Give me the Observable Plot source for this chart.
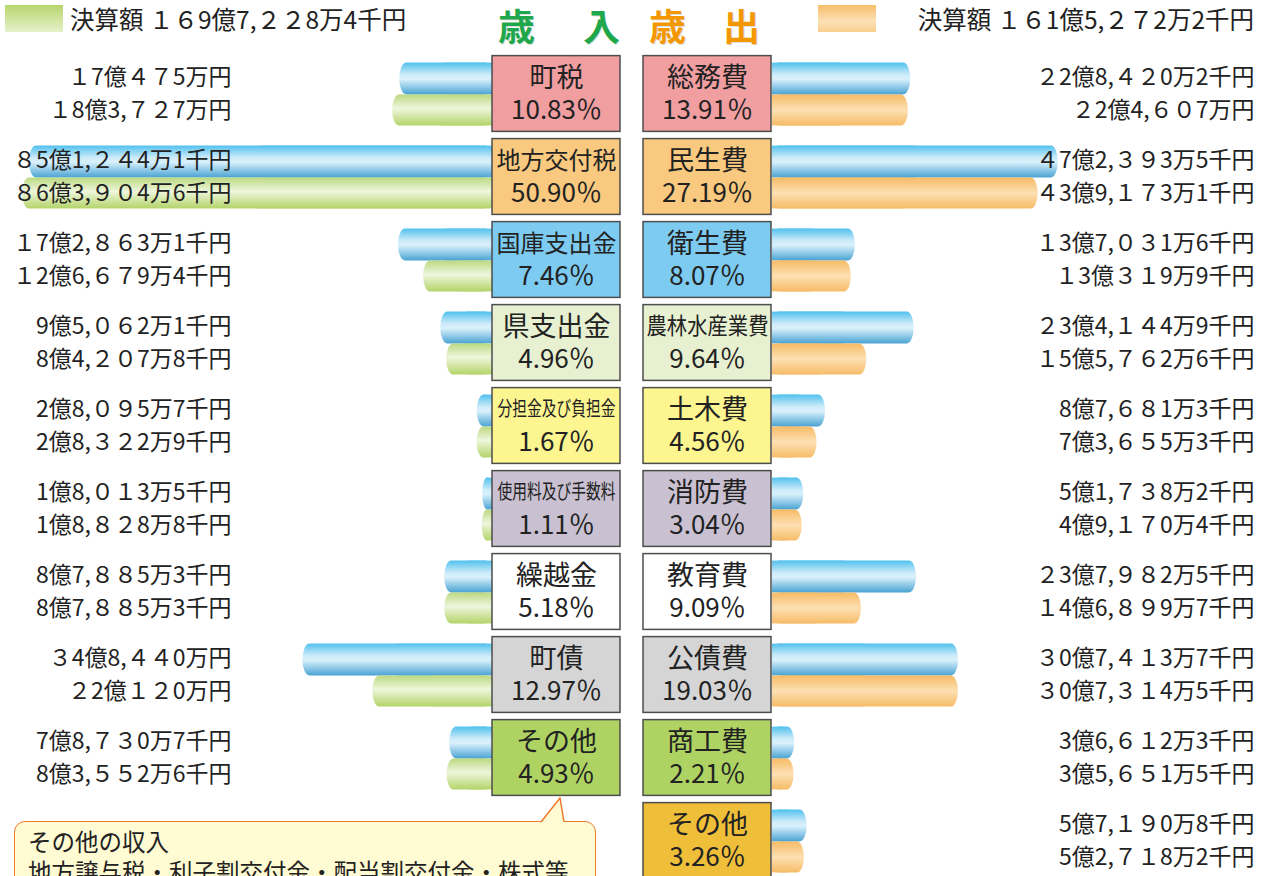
<!DOCTYPE html>
<html><head><meta charset="utf-8">
<script src="https://cdn.jsdelivr.net/npm/d3@7"></script>
<script src="https://cdn.jsdelivr.net/npm/@observablehq/plot@0.6"></script>
<style>
html,body{margin:0;padding:0;background:#fff;overflow:hidden;width:1266px;height:876px;}
body{font-family:"Noto Sans CJK JP","Noto Sans",sans-serif;color:#222;position:relative;}
#header{position:relative;height:51px;}
#header .sw{position:absolute;top:5px;width:58px;height:27px;}
#header .tot{position:absolute;top:3px;font-size:24.5px;line-height:32px;white-space:nowrap;color:#222;}
#header .ttl{position:absolute;top:5px;font-size:37px;line-height:40px;font-weight:bold;white-space:nowrap;text-shadow:1px 1px 0 rgba(0,0,0,0.15);}
#charts{display:flex;align-items:flex-start;}
#charts svg{display:block;overflow:visible;}
#callout{position:absolute;left:14px;top:821px;width:582px;height:90px;box-sizing:border-box;border:1.5px solid #ef7a2c;border-radius:11px;background:#fffbd3;padding:4px 13px;font-size:23.5px;line-height:30px;white-space:nowrap;color:#222;}
#pointer{position:absolute;left:539px;top:797px;}
</style></head><body>
<svg width="0" height="0" style="position:absolute">
  <defs>
    <linearGradient id="gBlue" x1="0" y1="0" x2="0" y2="1">
      <stop offset="0" stop-color="#52c1ee"/>
      <stop offset="0.38" stop-color="#cdebf9"/>
      <stop offset="0.52" stop-color="#d9f1fc"/>
      <stop offset="1" stop-color="#4aa3d3"/>
    </linearGradient>
    <linearGradient id="gGreen" x1="0" y1="0" x2="0" y2="1">
      <stop offset="0" stop-color="#bcd982"/>
      <stop offset="0.45" stop-color="#eef6dc"/>
      <stop offset="1" stop-color="#b4d46a"/>
    </linearGradient>
    <linearGradient id="gOrange" x1="0" y1="0" x2="0" y2="1">
      <stop offset="0" stop-color="#f6bb66"/>
      <stop offset="0.5" stop-color="#fde0b3"/>
      <stop offset="1" stop-color="#f6bc68"/>
    </linearGradient>
  </defs>
</svg>
<div id="header"></div>
<div id="charts"></div>
<script>
// ---------------- data ----------------
const inTitle = ["歳", "入"];
const outTitle = ["歳", "出"];
const inTotalLabel = "決算額 １６9億7,２２8万4千円";
const outTotalLabel = "決算額 １６1億5,２７2万2千円";

const inCats = ["町税","地方交付税","国庫支出金","県支出金","分担金及び負担金","使用料及び手数料","繰越金","町債","その他"];
const inPrev = [17.0475, 85.12441, 17.28631, 9.50621, 2.80957, 1.80135, 8.78853, 34.844, 7.87307];
const inCur  = [18.3727, 86.39046, 12.66794, 8.42078, 2.83229, 1.88288, 8.78853, 22.012, 8.35526];
const inPrevLabels = ["１7億４７5万円","８5億1,２４4万1千円","１7億2,８６3万1千円","9億5,０６2万1千円","2億8,０９5万7千円","1億8,０１3万5千円","8億7,８８5万3千円","３4億8,４４0万円","7億8,７３0万7千円"];
const inCurLabels  = ["１8億3,７２7万円","８6億3,９０4万6千円","１2億6,６７9万4千円","8億4,２０7万8千円","2億8,３２2万9千円","1億8,８２8万8千円","8億7,８８5万3千円","２2億１２0万円","8億3,５５2万6千円"];
const inPct = ["10.83％","50.90％","7.46％","4.96％","1.67％","1.11％","5.18％","12.97％","4.93％"];

const outCats = ["総務費","民生費","衛生費","農林水産業費","土木費","消防費","教育費","公債費","商工費","その他"];
const outPrev = [22.84202, 47.23935, 13.70316, 23.41449, 8.76813, 5.17382, 23.79825, 30.74137, 3.66123, 5.71908];
const outCur  = [22.4607, 43.91731, 13.03199, 15.57626, 7.36553, 4.91704, 14.68997, 30.73145, 3.56515, 5.27182];
const outPrevLabels = ["２2億8,４２0万2千円","４7億2,３９3万5千円","１3億7,０３1万6千円","２3億4,１４4万9千円","8億7,６８1万3千円","5億1,７３8万2千円","２3億7,９８2万5千円","３0億7,４１3万7千円","3億6,６１2万3千円","5億7,１９0万8千円"];
const outCurLabels  = ["２2億4,６０7万円","４3億9,１７3万1千円","１3億３１9万9千円","１5億5,７６2万6千円","7億3,６５5万3千円","4億9,１７0万4千円","１4億6,８９9万7千円","３0億7,３１4万5千円","3億5,６５1万5千円","5億2,７１8万2千円"];
const outPct = ["13.91％","27.19％","8.07％","9.64％","4.56％","3.04％","9.09％","19.03％","2.21％","3.26％"];

const noteTitle = "その他の収入";
const noteText = "地方譲与税・利子割交付金・配当割交付金・株式等";

// ---------------- styles ----------------
const boxColors = ["#f19ea1","#f9c97f","#7dcbf1","#e7f0d0","#fcf590","#c9c1d1","#ffffff","#d5d5d5","#afd362","#f0bf3a"];
const FONT = '"Noto Sans CJK JP", "Noto Sans", sans-serif';
const H = 840;
const rows = d3.range(10);
const yOpt = {domain: rows, range: [0, 832], padding: 0, axis: null};

// ---------------- header ----------------
const header = document.getElementById("header");
header.innerHTML = `
  <div class="sw" style="left:5px;background:linear-gradient(to bottom,#b7d66c,#e6f1cb)"></div>
  <div class="tot" style="left:70px">${inTotalLabel}</div>
  <div class="ttl" style="left:498px;color:#1ea84b">${inTitle[0]}</div>
  <div class="ttl" style="left:583px;color:#1ea84b">${inTitle[1]}</div>
  <div class="ttl" style="left:649px;color:#f39800">${outTitle[0]}</div>
  <div class="ttl" style="left:723px;color:#f39800">${outTitle[1]}</div>
  <div class="sw" style="left:818px;background:linear-gradient(to bottom,#f7bd6a,#fde1b6 60%,#f9cf8e)"></div>
  <div class="tot" style="right:12px">${outTotalLabel}</div>`;

// ---------------- tables ----------------
const inData = inCats.map((c, i) => ({row: i, cat: c, prev: inPrev[i], cur: inCur[i], prevLabel: inPrevLabels[i], curLabel: inCurLabels[i], pct: inPct[i]}));
const outData = outCats.map((c, i) => ({row: i, cat: c, prev: outPrev[i], cur: outCur[i], prevLabel: outPrevLabels[i], curLabel: outCurLabels[i], pct: outPct[i]}));
const boxData = [
  ...inData.map(d => ({side: "in", row: d.row, name: d.cat, pct: d.pct})),
  ...outData.map(d => ({side: "out", row: d.row, name: d.cat, pct: d.pct}))
];

const topBar = {insetTop: 10.6, insetBottom: 40.6};
const botBar = {insetTop: 42.6, insetBottom: 9.6};

function barMarks(data, curFill) {
  return [
    Plot.barX(data, {y: "row", x: "prev", fill: "url(#gBlue)", rx: 7, ry: 16, ...topBar}),
    Plot.barX(data, {y: "row", x: d => d.prev / 2, fill: "url(#gBlue)", ...topBar}),
    Plot.barX(data, {y: "row", x: "cur", fill: curFill, rx: 7, ry: 16, ...botBar}),
    Plot.barX(data, {y: "row", x: d => d.cur / 2, fill: curFill, ...botBar})
  ];
}

// left (revenue)
const left = Plot.plot({
  width: 492, height: H, margin: 0,
  style: {fontFamily: FONT, background: "transparent", overflow: "visible"},
  x: {domain: [0, 90], range: [492, 492 - 90 * 5.44], axis: null},
  y: yOpt,
  marks: [
    ...barMarks(inData, "url(#gGreen)"),
    Plot.text(inData, {y: "row", text: "prevLabel", frameAnchor: "left", dx: 231, dy: -16, textAnchor: "end", fontSize: 23, fill: "#222"}),
    Plot.text(inData, {y: "row", text: "curLabel", frameAnchor: "left", dx: 231, dy: 17, textAnchor: "end", fontSize: 23, fill: "#222"})
  ]
});

// center (category boxes)
const center = Plot.plot({
  width: 280, height: H, margin: 0,
  style: {fontFamily: FONT, background: "transparent", overflow: "visible"},
  x: {domain: ["in", "out"], range: [0, 280], paddingInner: 0.152, paddingOuter: 0, axis: null},
  y: yOpt,
  color: {type: "ordinal", domain: rows, range: boxColors},
  marks: [
    Plot.cell(boxData, {x: "side", y: "row", fill: "row", stroke: "#4d4d4d", strokeWidth: 1.5, insetTop: 3.6, insetBottom: 3.6}),
    Plot.text(boxData.filter(d => d.name.length <= 4), {x: "side", y: "row", text: "name", dy: -16, fontSize: 27, fill: "#222"}),
    Plot.text(boxData.filter(d => d.name.length === 5), {x: "side", y: "row", text: "name", dy: -16, fontSize: 24, fill: "#222"}),
    Plot.text(boxData.filter(d => d.name.length === 6), {x: "side", y: "row", text: "name", dy: -16, fontSize: 23, fill: "#222"}),
    Plot.text(boxData.filter(d => d.name.length >= 7), {x: "side", y: "row", text: "name", dy: -16, fontSize: 20, fill: "#222"}),
    Plot.text(boxData, {x: "side", y: "row", text: "pct", dy: 17, fontSize: 26, fill: "#222"})
  ]
});
d3.select(center).selectAll("text").each(function() {
  const t = this.textContent;
  if (t.length === 6 && !t.includes("％")) { this.setAttribute("textLength", 122); this.setAttribute("lengthAdjust", "spacingAndGlyphs"); }
  if (t.length >= 7 && !t.includes("％")) { this.setAttribute("textLength", 118); this.setAttribute("lengthAdjust", "spacingAndGlyphs"); }
});

// right (expenditure)
const right = Plot.plot({
  width: 494, height: H, margin: 0,
  style: {fontFamily: FONT, background: "transparent", overflow: "visible"},
  x: {domain: [0, 80], range: [0, 80 * 6.05], axis: null},
  y: yOpt,
  marks: [
    ...barMarks(outData, "url(#gOrange)"),
    Plot.text(outData, {y: "row", text: "prevLabel", frameAnchor: "right", dx: -12, dy: -16, textAnchor: "end", fontSize: 23, fill: "#222"}),
    Plot.text(outData, {y: "row", text: "curLabel", frameAnchor: "right", dx: -12, dy: 17, textAnchor: "end", fontSize: 23, fill: "#222"})
  ]
});

const charts = document.getElementById("charts");
charts.append(left, center, right);

// note callout
const note = document.createElement("div");
note.id = "callout";
note.innerHTML = `<div>${noteTitle}</div><div>${noteText}</div>`;
document.body.append(note);
const ptr = document.createElementNS("http://www.w3.org/2000/svg", "svg");
ptr.id = "pointer";
ptr.setAttribute("width", 30); ptr.setAttribute("height", 28);
ptr.innerHTML = `<polygon points="2,26 21,1 25,26" fill="#fffbd3"/><polyline points="2,25 21,1 25,25" fill="none" stroke="#ef7a2c" stroke-width="1.5"/>`;
document.body.append(ptr);
</script>
</body></html>
